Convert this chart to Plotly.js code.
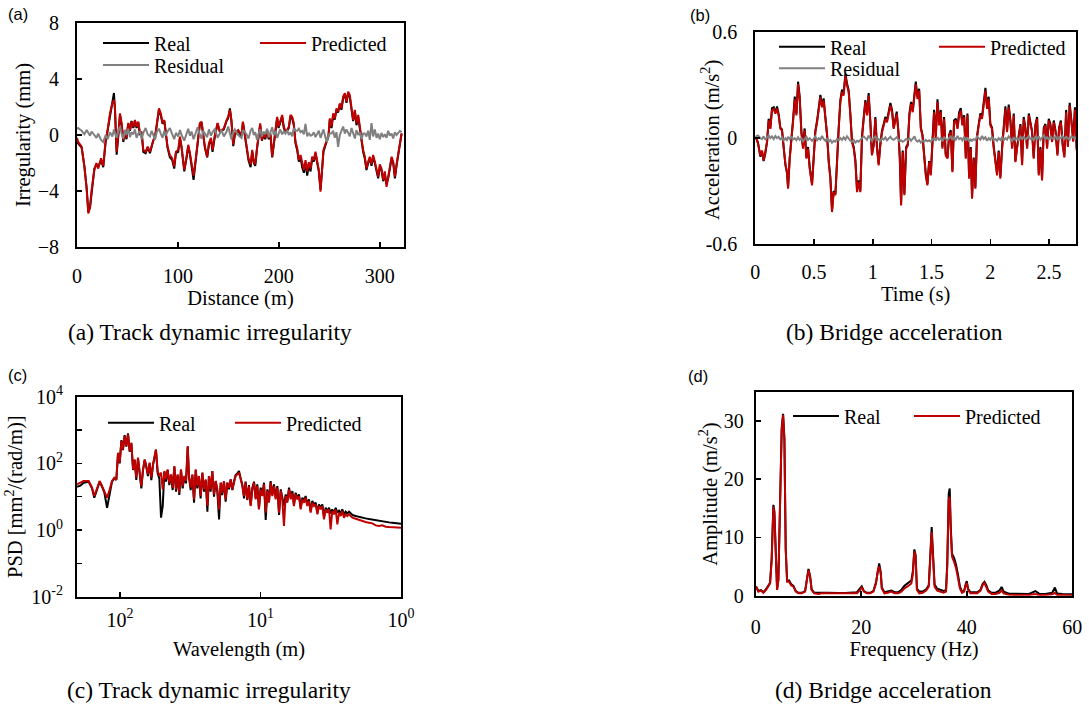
<!DOCTYPE html>
<html>
<head>
<meta charset="utf-8">
<script src="https://cdn.plot.ly/plotly-3.0.1.min.js"></script>
<style>html,body{margin:0;padding:0;background:#fff;}#chart{width:1089px;height:706px;}</style>
</head>
<body>
<div id="chart"></div>
<script>
// ---------- (a) Track dynamic irregularity, time domain ----------
const distance = [0,1,4.6,7.3,9.6,11.2,12.9,14.5,17.2,19.3,21,23.8,26,28.4,30.4,32.7,35,36.6,37.6,39.3,41,42.6,44.2,45.9,47.5,49,50.8,52.5,54,55.8,57.4,59,60.7,62.4,64,65.7,68,70,72.3,74,75.6,77.3,78.9,81.2,83,84.8,86.5,87.8,89.7,92,94.4,96.3,98,100.3,102,103.6,106.3,108.6,110.2,111.9,113.5,115.5,117.5,119.5,121.8,123.4,125,126.7,129,130.7,132.7,134.3,136.6,139.3,141.6,143.2,145.5,148.2,149.8,151.5,153,154.8,156.4,159.7,163,164.4,167.6,169.9,172,173.6,175.2,176.6,178.5,180.2,181.5,183.2,184.8,186.5,188.4,190,191.7,193.4,195,196.7,198.3,199.7,201.3,203.3,204.9,206.6,208.2,209.9,211.5,213.2,214.8,216.5,218.2,219.8,221.5,223.1,224.8,226.4,228.1,229.7,231.4,233,234.7,236.3,238,239.6,241.3,242.6,244.2,245.9,247.6,249.2,250.5,252.2,253.8,255.4,257.1,258.7,260.4,262,263.7,265.4,267,268.7,270.3,272,273.6,275.3,276.9,278.6,280.2,281.9,283.5,285.2,286.8,288.5,290.1,291.8,293.4,295.1,296.8,298.4,300,301.7,303.4,305,306.7,308.3,310,311.7,313.3,315,316.6,318.3,319.9,321.6];
const irrReal = [-0.3,-0.6,-0.9,-2.2,-3.8,-5.5,-5.2,-4.0,-2.4,-2.1,-2.3,-1.8,-2.3,-0.5,0.3,1.4,2.4,3.0,1.8,-1.4,0.0,1.4,0.7,-0.5,0.3,-0.3,0.8,0.3,1.0,0.5,1.0,0.5,0.9,0.0,0.2,-1.2,-1.3,-0.9,-1.3,-0.8,-0.4,-0.2,0.8,1.8,1.4,0.8,1.0,0.3,-0.9,-1.6,-1.8,-2.4,-1.3,-1.2,-0.2,-0.9,-2.6,-1.6,-0.8,-1.4,-2.2,-3.2,-1.9,-0.4,0.8,0.9,-0.1,-0.9,-1.6,-0.7,-0.3,-1.2,-0.1,0.8,0.2,0.3,0.4,1.0,1.2,1.9,1.0,-0.8,0.0,0.3,-0.1,0.9,-0.7,-1.8,-2.3,-1.2,-2.0,-2.2,-0.9,0.0,0.7,-0.4,0.0,-0.3,0.3,-0.3,0.0,-1.6,-0.7,0.6,1.2,0.5,0.9,1.3,0.5,0.2,0.3,0.5,1.3,1.2,0.7,-0.6,-1.1,-1.9,-1.6,-2.3,-2.7,-2.0,-2.9,-2.1,-2.6,-1.7,-1.9,-1.3,-2.0,-2.6,-3.9,-2.8,-1.2,-0.8,-0.4,-0.1,1.1,0.5,1.4,1.1,1.8,1.6,2.2,1.8,2.6,2.9,2.3,3.0,2.7,1.6,1.0,1.7,0.7,1.3,0.4,-0.6,-1.2,-1.7,-2.5,-2.0,-1.7,-2.2,-1.6,-2.0,-2.6,-3.1,-2.3,-2.5,-3.3,-2.8,-3.5,-3.1,-2.4,-1.7,-2.0,-3.1,-2.2,-1.5,-0.7,0.1];
const irrPred = [-0.2,-0.48,-0.83,-2.26,-3.9,-5.6,-5.1,-3.9,-2.5,-2.0,-2.4,-1.67,-2.2,-0.36,0.36,1.55,2.26,2.5,2.0,-1.2,0.1,1.55,0.86,-0.36,0.36,-0.2,0.86,0.36,0.95,0.6,1.07,0.6,0.95,0.1,0.24,-1.07,-1.2,-0.83,-1.2,-0.7,-0.36,-0.12,0.86,1.9,1.55,0.86,1.07,0.36,-0.83,-1.43,-1.67,-2.26,-1.2,-1.07,-0.12,-0.83,-2.5,-1.55,-0.7,-1.3,-2.1,-2.9,-1.79,-0.36,0.86,0.95,0,-0.83,-1.55,-0.6,-0.2,-1.07,0,0.86,0.24,0.36,0.47,1.07,1.3,1.79,1.07,-0.7,0.12,0.36,0,0.95,-0.6,-1.67,-2.1,-1.07,-1.9,-2.1,-0.83,0.12,0.83,-0.36,0.12,-0.2,0.36,-0.2,0.12,-1.55,-0.6,0.7,1.3,0.6,0.95,1.43,0.6,0.24,0.36,0.6,1.43,1.3,0.86,-0.48,-0.95,-1.79,-1.43,-2.1,-2.5,-1.79,-2.6,-1.95,-2.4,-1.55,-1.79,-1.2,-1.9,-2.5,-4.05,-2.7,-1.07,-0.7,-0.36,0,1.19,0.6,1.55,1.19,1.9,1.67,2.26,1.9,2.74,2.98,2.38,3.1,2.86,1.67,1.07,1.79,0.83,1.43,0.48,-0.48,-1.07,-1.55,-2.4,-1.9,-1.55,-2.1,-1.43,-1.9,-2.5,-2.98,-2.1,-2.4,-3.2,-2.6,-3.7,-2.98,-2.26,-1.55,-1.9,-2.98,-2.1,-1.43,-0.6,0.12];
const irrResidual = [0.45,0.5,0.3,0.05,0.35,0.1,-0.05,0.25,0.0,-0.2,0.1,-0.35,-0.5,0.0,-0.3,0.2,-0.1,0.4,0.15,-0.2,0.3,0.6,0.1,-0.25,0.35,0.0,0.45,-0.15,0.2,0.05,0.4,-0.2,0.1,0.25,-0.3,0.15,0.5,0.05,-0.1,0.3,0.0,-0.35,0.2,0.45,0.1,-0.2,0.3,-0.05,0.25,0.5,0.05,-0.3,0.15,-0.1,0.35,0.0,-0.4,0.2,0.45,-0.05,0.25,-0.3,0.1,0.55,0.0,-0.25,0.3,0.1,-0.15,0.4,-0.05,0.2,0.45,-0.2,0.1,0.35,-0.1,0.25,0.6,0.05,-0.3,0.2,0.4,0.0,-0.2,0.35,0.1,-0.25,0.3,0.5,0.0,0.2,-0.35,0.15,0.4,-0.1,0.25,0.05,0.45,-0.15,0.2,0.55,0.0,0.3,-0.2,0.15,0.4,0.05,0.25,0.1,0.35,0.0,0.2,-0.1,0.5,0.3,0.3,0.45,0.2,0.3,0.05,0.8,-0.1,0.15,-0.05,0.0,0.2,-0.15,0.1,0.3,-0.2,0.05,0.4,-0.1,-0.5,0.0,0.1,0.1,0.3,-0.2,0.2,-0.85,0.0,0.3,0.6,0.1,0.4,0.15,-0.1,0.5,0.2,-0.25,0.35,0.0,0.2,-0.3,0.1,0.1,-0.1,0.3,-0.35,0.85,-0.1,0.4,-0.2,0.1,-0.3,0.15,-0.15,0.05,-0.2,0.3,-0.05,0.1,-0.25,0.2,0.0,0.15,0.3,0.2];

// ---------- (b) Bridge acceleration, time domain ----------
const time = [0.003,0.023,0.043,0.057,0.071,0.086,0.1,0.114,0.128,0.142,0.157,0.171,0.185,0.199,
0.213,0.227,0.242,0.256,0.27,0.279,0.293,0.307,0.321,0.336,0.35,0.364,0.378,0.392,0.406,0.42,0.435,0.449,0.463,0.483,
0.497,0.511,0.526,0.54,0.554,0.568,0.582,0.597,0.611,0.625,0.639,0.653,0.667,0.682,0.696,0.71,0.724,0.738,0.752,0.767,
0.781,0.795,0.809,0.823,0.838,0.852,0.866,0.88,0.894,0.908,0.923,0.937,0.951,0.965,0.979,0.993,1.008,1.022,1.036,1.05,
1.064,1.079,1.093,1.107,1.121,1.135,1.15,1.164,1.178,
1.204,1.218,1.23,1.241,1.255,1.269,1.284,1.298,1.312,1.326,1.34,1.355,1.366,1.38,1.395,1.409,1.423,1.437,1.451,1.465,
1.48,1.494,1.508,1.522,1.536,1.551,1.565,1.579,1.593,1.607,1.621,1.636,1.65,1.664,1.678,1.692,1.707,1.721,1.735,1.749,
1.763,1.778,1.792,1.806,1.82,1.834,1.845,1.859,1.873,1.887,1.902,1.916,1.93,1.944,1.959,1.973,1.987,2.001,2.015,2.03,
2.044,2.058,2.072,2.086,2.101,2.115,2.129,2.143,2.157,2.172,2.186,2.2,2.214,2.228,2.243,2.257,2.271,2.285,2.299,2.314,
2.328,2.342,2.356,2.37,2.385,2.399,2.413,2.427,2.441,2.456,2.47,2.484,2.498,2.512,2.526,2.541,
2.556,2.572,2.586,2.601,2.616,2.631,2.646,2.661,2.676,2.691,2.706,2.721,2.736];
const accReal = [0.01,-0.025,-0.105,-0.075,-0.13,-0.085,-0.02,0.11,0.06,0.17,0.175,0.145,0.18,0.135,
0.06,0.05,-0.055,-0.15,-0.2,-0.28,-0.11,-0.015,0.1,0.235,0.14,0.32,0.235,0.04,-0.05,0.055,-0.11,-0.05,-0.165,-0.26,
-0.13,0.04,0.1,0.175,0.245,0.185,0.225,0.115,0.02,-0.13,-0.22,-0.41,-0.3,-0.315,-0.105,0.06,0.215,0.275,0.255,0.365,
0.31,0.27,0.14,-0.015,-0.05,-0.125,-0.29,-0.24,-0.3,0.01,0.12,0.215,0.14,0.255,0.1,-0.09,-0.035,0.12,-0.05,-0.145,
-0.035,0.045,0.08,0.12,0.1,0.14,0.2,0.16,0.06,
0.15,0.04,-0.11,-0.37,-0.07,-0.315,-0.05,-0.035,0.14,0.205,0.155,0.275,0.32,0.235,0.28,0.06,0.02,-0.09,-0.2,-0.26,
-0.13,-0.2,0.01,0.16,0.01,0.22,0.08,0.16,-0.05,0.12,-0.09,-0.11,0.02,0.045,-0.185,0.1,0.11,0.06,0.145,0.17,
0.08,0.13,-0.11,0.14,-0.22,-0.05,-0.335,-0.11,-0.28,0.01,0.08,0.14,0.12,0.215,0.285,0.18,0.235,0.08,0.06,-0.05,
-0.145,-0.2,-0.07,-0.22,-0.05,0.08,0.18,0.04,0.19,0.1,-0.05,0.14,-0.13,-0.05,0.02,0.08,-0.145,0.12,0.06,-0.05,
0.14,0.08,0.04,-0.11,0.08,0.12,-0.2,-0.05,-0.23,0.06,0.08,-0.05,0.11,0.08,-0.015,0.1,
0.04,-0.09,0.06,0.1,-0.03,-0.1,0.16,-0.04,0.2,0.1,-0.01,0.175,-0.06];
const accPred = [0.006,-0.03,-0.1,-0.07,-0.127,-0.08,-0.023,0.1,0.053,0.156,0.166,0.138,0.166,0.129,
0.053,0.044,-0.06,-0.145,-0.193,-0.287,-0.116,-0.022,0.09,0.222,0.129,0.307,0.222,0.034,-0.06,0.044,-0.116,-0.06,-0.173,-0.268,
-0.136,0.034,0.09,0.166,0.232,0.175,0.213,0.109,0.015,-0.136,-0.23,-0.419,-0.306,-0.324,-0.116,0.053,0.204,0.26,0.241,0.354,
0.298,0.26,0.129,-0.022,-0.06,-0.136,-0.306,-0.25,-0.306,0.0,0.109,0.204,0.129,0.241,0.09,-0.098,-0.041,0.109,-0.06,-0.154,
-0.041,0.034,0.072,0.109,0.09,0.129,0.185,0.147,0.053,
0.138,0.034,-0.116,-0.381,-0.079,-0.324,-0.06,-0.041,0.129,0.194,0.147,0.26,0.307,0.222,0.269,0.053,0.015,-0.098,-0.211,-0.268,
-0.136,-0.211,0.0,0.147,0.0,0.204,0.072,0.147,-0.06,0.109,-0.098,-0.116,0.015,0.034,-0.193,0.09,0.1,0.053,0.129,0.156,
0.072,0.119,-0.116,0.129,-0.23,-0.06,-0.343,-0.116,-0.287,0.0,0.072,0.129,0.109,0.204,0.269,0.166,0.222,0.072,0.053,-0.06,
-0.154,-0.211,-0.079,-0.23,-0.06,0.072,0.166,0.034,0.175,0.09,-0.06,0.129,-0.136,-0.06,0.015,0.072,-0.154,0.109,0.053,-0.06,
0.129,0.072,0.034,-0.116,0.072,0.109,-0.211,-0.06,-0.24,0.053,0.072,-0.06,0.1,0.072,-0.022,0.09,
0.034,-0.1,0.05,0.09,-0.04,-0.11,0.147,-0.05,0.185,0.09,-0.02,0.16,-0.07];
const accResidual = [0.01,0.015,0.0,-0.005,0.01,-0.01,0.005,0.015,0.0,0.01,-0.005,0.012,0.0,0.008,
-0.01,0.005,-0.012,0.0,-0.015,0.008,-0.005,0.01,-0.008,0.0,-0.012,0.005,-0.01,0.0,-0.018,-0.005,0.008,-0.01,0.0,-0.015,
-0.005,0.01,-0.012,0.0,-0.008,0.012,-0.005,-0.015,0.0,-0.02,-0.01,-0.025,-0.015,-0.02,-0.005,-0.012,0.0,-0.01,0.005,-0.008,
0.01,-0.005,-0.015,-0.02,-0.01,-0.025,-0.015,-0.02,-0.01,-0.005,0.01,0.0,-0.01,0.015,-0.005,-0.015,0.0,0.01,-0.01,-0.005,
-0.015,0.0,-0.008,0.005,-0.012,0.0,0.008,-0.005,-0.01,
0.005,-0.01,-0.018,-0.012,-0.02,-0.015,-0.005,-0.01,0.0,-0.015,-0.005,0.01,-0.01,-0.02,-0.012,-0.025,-0.015,-0.02,-0.01,-0.018,
-0.012,-0.02,-0.008,0.0,-0.015,0.005,-0.01,0.0,-0.018,0.008,-0.005,-0.012,0.0,0.01,-0.01,0.005,-0.008,0.012,-0.005,0.0,
-0.012,0.008,-0.015,0.005,-0.02,-0.008,-0.015,-0.005,-0.012,0.01,0.0,-0.008,0.012,-0.005,0.005,-0.015,0.0,-0.01,0.008,-0.012,
-0.005,-0.015,0.0,-0.01,0.005,-0.012,0.0,-0.008,0.01,-0.005,-0.015,0.005,-0.01,0.0,-0.012,0.008,-0.005,0.01,-0.008,0.0,
0.012,-0.005,0.0,-0.012,0.008,-0.005,0.01,-0.01,0.0,0.015,-0.005,0.005,-0.008,0.01,0.0,-0.005,
0.01,-0.008,0.005,0.0,0.012,-0.005,0.008,0.0,-0.01,0.012,0.005,-0.005,0.01];

// ---------- (c) Track irregularity PSD (values read as log10) ----------
const wavelengthLog10 = [2.306,2.282,2.259,2.223,2.199,2.183,2.164,2.145,2.128,2.111,2.092,2.073,2.057,2.040,2.026,2.014,2.002,1.990,1.979,1.967,1.955,1.943,1.931,1.919,1.907,1.896,1.884,1.872,1.860,1.848,1.836,1.824,1.813,1.801,1.789,1.777,1.765,1.753,1.744,1.732,1.720,1.708,1.696,1.684,1.673,1.661,1.649,1.637,1.625,1.613,1.601,1.590,1.578,1.566,1.554,1.542,1.530,1.518,1.509,1.497,1.485,1.473,1.461,1.450,1.438,1.426,1.414,1.402,1.390,1.378,1.367,1.355,1.343,1.331,1.319,1.307,1.295,1.283,1.272,1.260,1.248,1.236,1.224,1.212,1.200,1.189,1.177,1.165,1.153,1.141,1.129,1.117,1.106,1.094,1.082,1.070,1.058,1.046,1.034,1.023,1.011,0.999,0.987,0.975,0.963,0.951,0.940,0.928,0.916,0.904,0.892,0.880,0.868,0.856,0.845,0.833,0.821,0.809,0.797,0.785,0.773,0.762,0.750,0.738,0.726,0.714,0.702,0.690,0.679,0.667,0.655,0.643,0.631,0.619,0.607,0.595,0.584,0.572,0.560,0.548,0.536,0.524,0.512,0.501,0.489,0.477,0.465,0.453,0.441,0.429,0.418,0.406,0.394,0.382,0.370,0.358,0.346,0.323,0.299,0.275,0.252,0.228,0.204,0.180,0.157,0.133,0.109,0.085,0.062,0.038,0.014,0.0];
const psdRealLog10 = [1.30,1.33,1.42,1.45,1.25,0.97,1.20,1.45,1.30,1.12,0.67,1.15,1.45,1.55,1.50,2.30,2.00,2.70,2.40,2.85,2.50,2.90,2.35,2.60,1.80,2.10,1.50,2.15,1.70,1.25,1.80,2.10,1.90,1.62,2.00,1.50,1.95,2.20,2.40,1.70,1.55,0.37,0.72,1.75,1.45,1.80,1.35,1.65,1.20,1.90,1.15,1.65,1.05,1.80,1.25,1.60,1.40,2.50,1.60,1.20,1.65,0.82,1.80,1.25,1.60,0.95,1.72,1.15,1.50,0.55,1.62,1.15,1.77,1.00,1.47,1.15,0.32,1.42,1.05,1.47,0.85,1.42,1.22,1.52,1.20,1.45,1.65,1.70,1.77,1.55,1.35,0.95,1.45,0.90,1.35,0.75,1.27,1.45,0.95,1.37,0.65,1.27,1.05,1.42,0.30,1.22,0.85,1.47,1.07,1.37,0.97,1.32,0.45,1.22,0.97,0.72,1.07,0.87,1.27,0.97,1.17,0.77,1.12,0.97,1.07,0.67,0.97,0.87,1.02,0.77,0.92,0.57,0.87,0.77,0.82,0.52,0.77,0.67,0.77,0.40,0.67,0.57,0.67,0.50,0.62,0.52,0.67,0.52,0.58,0.50,0.62,0.47,0.55,0.50,0.55,0.50,0.45,0.42,0.39,0.37,0.35,0.33,0.31,0.29,0.27,0.26,0.24,0.23,0.22,0.21,0.20,0.19];
const psdPredLog10 = [1.37,1.42,1.47,1.47,1.27,1.02,1.22,1.47,1.32,1.17,0.97,1.22,1.47,1.57,1.52,2.32,2.02,2.67,2.42,2.82,2.52,2.87,2.37,2.62,1.82,2.12,1.57,2.17,1.72,1.32,1.82,2.12,1.92,1.67,2.02,1.57,1.97,2.22,2.42,1.77,1.62,1.72,1.22,1.77,1.52,1.82,1.42,1.67,1.27,1.92,1.22,1.67,1.12,1.82,1.32,1.62,1.47,2.52,1.62,1.27,1.67,0.92,1.82,1.32,1.62,1.02,1.72,1.22,1.52,0.72,1.62,1.22,1.77,1.07,1.47,1.22,0.62,1.42,1.12,1.47,0.92,1.42,1.27,1.52,1.22,1.42,1.62,1.67,1.72,1.52,1.32,1.02,1.42,0.92,1.32,0.72,1.22,1.42,0.92,1.32,0.62,1.22,1.02,1.37,0.52,1.17,0.82,1.42,1.02,1.32,0.92,1.27,0.52,1.17,0.92,0.12,1.02,0.82,1.22,0.92,1.12,0.72,1.07,0.92,1.02,0.62,0.92,0.82,0.97,0.72,0.87,0.52,0.82,0.72,0.77,0.47,0.72,0.62,0.72,0.32,0.62,0.52,0.62,0.02,0.57,0.47,0.62,0.17,0.52,0.42,0.57,0.37,0.47,0.42,0.47,0.42,0.37,0.34,0.30,0.27,0.24,0.22,0.20,0.14,0.12,0.14,0.10,0.09,0.08,0.08,0.07,0.07];

// ---------- (d) Bridge acceleration spectrum ----------
const frequency = [0.06,0.5,1.0,1.45,1.96,2.4,2.72,3.03,3.35,3.54,3.8,4.05,4.3,4.68,4.93,5.19,5.44,5.69,5.95,6.33,6.7,7.15,7.6,8.1,8.73,9.36,9.68,10.0,10.3,10.6,11.1,11.9,12.5,13.5,14.4,15.7,17.0,18.2,19.2,19.8,20.1,20.5,21.07,21.7,22.3,22.8,23.16,23.4,23.7,23.9,24.4,25.06,25.7,26.3,27.0,27.6,28.2,28.9,29.5,29.8,30.06,30.3,30.56,31.0,31.64,32.3,32.8,33.1,33.35,33.6,33.9,34.4,35.0,35.6,36.07,36.3,36.58,36.77,36.96,37.2,37.6,37.97,38.35,38.7,39.1,39.5,39.8,40.0,40.25,40.7,41.3,42.0,42.6,43.0,43.35,43.7,44.05,44.7,45.4,46.2,46.6,47.0,48.0,49.2,50.5,51.8,53.0,53.7,54.9,56.2,56.7,57.1,58.1,59.4,60.0];
const ampReal = [1.6,0.8,0.95,0.6,1.1,1.9,2.2,6.5,15.6,14.5,5.2,1.1,2.8,16.8,28.8,31.2,27.0,8.0,2.6,2.6,2.0,1.7,0.8,0.5,0.5,0.8,2.8,4.6,3.4,1.1,0.5,0.45,0.5,0.5,0.45,0.45,0.45,0.5,0.6,1.3,1.6,0.8,0.5,0.5,0.8,2.3,4.8,5.55,4.0,1.4,0.6,0.7,0.9,0.6,0.6,1.0,1.7,2.2,2.6,4.3,7.95,7.0,1.2,0.7,0.7,1.1,1.8,7.2,11.8,7.2,1.9,1.2,1.0,0.8,1.0,5.5,17.5,18.4,12.0,7.2,6.5,5.3,3.5,1.6,0.7,0.8,2.0,2.5,1.2,0.6,0.6,0.6,1.0,2.0,2.4,1.8,0.9,0.5,0.5,0.9,1.5,0.7,0.35,0.3,0.3,0.3,0.8,0.35,0.3,0.5,1.4,0.4,0.3,0.25,0.25];
const ampPred = [1.55,0.7,0.87,0.5,1.0,1.8,2.1,6.1,15.3,14.1,4.98,0.98,2.7,16.4,28.4,30.98,26.7,7.8,2.4,2.4,1.8,1.55,0.7,0.4,0.4,0.7,2.7,4.4,3.3,0.98,0.4,0.3,0.4,0.4,0.3,0.3,0.3,0.3,0.4,0.98,1.4,0.7,0.4,0.4,0.7,2.1,4.4,5.0,3.8,1.26,0.4,0.5,0.7,0.4,0.4,0.7,1.26,1.66,2.1,3.8,7.6,6.7,0.98,0.4,0.5,0.87,1.55,6.7,10.9,6.7,1.55,0.87,0.7,0.5,0.7,4.98,16.4,16.98,11.3,6.7,5.8,4.7,2.98,1.26,0.5,0.7,1.8,2.2,0.98,0.4,0.4,0.4,0.87,1.8,2.2,1.55,0.7,0.3,0.3,0.5,0.87,0.4,0.18,0.12,0.12,0.12,0.3,0.12,0.12,0.23,0.5,0.12,0.12,0.06,0.06];

// ---------- labels ----------
const seriesNames = ['Real', 'Predicted', 'Residual'];
const captions = ['(a) Track dynamic irregularity', '(b) Bridge acceleration', '(c) Track dynamic irregularity', '(d) Bridge acceleration'];
const panelTags = ['(a)', '(b)', '(c)', '(d)'];
const psdTickVals = [1e-2, 1, 100, 10000];
const psdTickText = ['10<sup>-2</sup>', '10<sup>0</sup>', '10<sup>2</sup>', '10<sup>4</sup>'];
const psdMinorVals = [1e-1, 10, 1000];
const wlTickVals = [100, 10, 1];
const wlTickText = ['10<sup>2</sup>', '10<sup>1</sup>', '10<sup>0</sup>'];

// ---------- styling / layout ----------
const W = 1089, H = 706;
const SERIF = 'Liberation Serif, Times New Roman, serif';
const SANS = 'Liberation Sans, Arial, sans-serif';
const C_REAL = '#000000', C_PRED = '#C00000', C_RES = '#808080';
const fx = p => p / W, fy = p => 1 - p / H;
const pow10 = a => a.map(v => Math.pow(10, v));

function line(x, y, name, color, xa, ya, lg) {
  return {x: x, y: y, name: name, type: 'scatter', mode: 'lines', line: {color: color, width: 2}, xaxis: xa, yaxis: ya, legend: lg};
}
const traces = [
  line(distance, irrReal, seriesNames[0], C_REAL, 'x', 'y', 'legend'),
  line(distance, irrPred, seriesNames[1], C_PRED, 'x', 'y', 'legend2'),
  line(distance, irrResidual, seriesNames[2], C_RES, 'x', 'y', 'legend3'),
  line(time, accReal, seriesNames[0], C_REAL, 'x2', 'y2', 'legend4'),
  line(time, accPred, seriesNames[1], C_PRED, 'x2', 'y2', 'legend5'),
  line(time, accResidual, seriesNames[2], C_RES, 'x2', 'y2', 'legend6'),
  line(pow10(wavelengthLog10), pow10(psdRealLog10), seriesNames[0], C_REAL, 'x3', 'y3', 'legend7'),
  line(pow10(wavelengthLog10), pow10(psdPredLog10), seriesNames[1], C_PRED, 'x3', 'y3', 'legend8'),
  line(frequency, ampReal, seriesNames[0], C_REAL, 'x4', 'y4', 'legend9'),
  line(frequency, ampPred, seriesNames[1], C_PRED, 'x4', 'y4', 'legend10')
];

function axis(extra) {
  return Object.assign({
    showline: true, linecolor: '#000', linewidth: 2, mirror: true,
    ticks: 'inside', ticklen: 5, tickwidth: 1.5, tickcolor: '#000',
    showgrid: false, zeroline: false, automargin: false,
    tickfont: {family: SERIF, size: 20, color: '#000'}
  }, extra);
}
function ttl(text, standoff) {
  return {text: text, font: {family: SERIF, size: 20.5, color: '#000'}, standoff: standoff};
}
function legendAt(xLine, yMid) {
  return {x: fx(xLine - 5), y: fy(yMid), xanchor: 'left', yanchor: 'middle', orientation: 'h',
    bgcolor: 'rgba(0,0,0,0)', borderwidth: 0, itemwidth: 46,
    font: {family: SERIF, size: 20, color: '#000'}, itemclick: false, itemdoubleclick: false};
}
function note(text, xp, yp, font, extra) {
  return Object.assign({text: text, x: fx(xp), y: fy(yp), xref: 'paper', yref: 'paper', showarrow: false,
    xanchor: 'center', yanchor: 'middle', font: font}, extra || {});
}
const capFont = {family: SERIF, size: 23.5, color: '#000'};
const tagFont = {family: SANS, size: 16.5, color: '#000'};

const layout = {
  width: W, height: H,
  margin: {l: 0, r: 0, t: 0, b: 0},
  paper_bgcolor: '#fff', plot_bgcolor: '#fff',
  font: {family: SERIF, size: 20, color: '#000'},
  showlegend: true,
  xaxis: axis({domain: [fx(77), fx(404)], anchor: 'y', range: [0, 324], tickvals: [0, 100, 200, 300], ticklabelstandoff: 10, title: ttl('Distance (m)', 3)}),
  yaxis: axis({domain: [fy(247), fy(23)], anchor: 'x', range: [-8, 8], tickvals: [-8, -4, 0, 4, 8], ticklabelstandoff: 12, title: ttl('Irregularity (mm)', 2)}),
  xaxis2: axis({domain: [fx(755.3), fx(1076)], anchor: 'y2', range: [0, 2.73], tickvals: [0, 0.5, 1, 1.5, 2, 2.5], ticklabelstandoff: 9, title: ttl('Time (s)', 4)}),
  yaxis2: axis({domain: [fy(244), fy(32.3)], anchor: 'x2', range: [-0.6, 0.6], tickvals: [-0.6, 0, 0.6], ticktext: ['-0.6', '0', '0.6'], ticklabelstandoff: 12}),
  xaxis3: axis({domain: [fx(77), fx(401)], anchor: 'y3', type: 'log', range: [2.306, 0], tickvals: wlTickVals, ticktext: wlTickText, ticklabelstandoff: 4, title: ttl('Wavelength (m)', 12)}),
  yaxis3: axis({domain: [fy(596.7), fy(396.7)], anchor: 'x3', type: 'log', range: [-2, 4], tickvals: psdTickVals, ticktext: psdTickText,
    minor: {tickmode: 'array', tickvals: psdMinorVals, ticks: 'inside', ticklen: 5, tickwidth: 1.5, tickcolor: '#000', showgrid: false},
    ticklabelstandoff: 8, title: ttl('PSD [mm<sup>2</sup>/(rad/m)]', 3)}),
  xaxis4: axis({domain: [fx(755.7), fx(1072.3)], anchor: 'y4', range: [0, 60], tickvals: [0, 20, 40, 60], ticklabelstandoff: 12, title: ttl('Frequency (Hz)', 4)}),
  yaxis4: axis({domain: [fy(595.7), fy(392.3)], anchor: 'x4', range: [0, 34.9], tickvals: [0, 10, 20, 30], ticklabelstandoff: 6, title: ttl('Amplitude (m/s<sup>2</sup>)', 1)}),
  legend: legendAt(103, 43),
  legend2: legendAt(260, 43),
  legend3: legendAt(103, 65),
  legend4: legendAt(779, 46.7),
  legend5: legendAt(939, 46.7),
  legend6: legendAt(779, 68.3),
  legend7: legendAt(108, 422.7),
  legend8: legendAt(235, 422.7),
  legend9: legendAt(793, 416),
  legend10: legendAt(914, 416),
  annotations: [
    note('Acceleration (m/s<sup>2</sup>)', 711, 140, {family: SERIF, size: 20.5, color: '#000'}, {textangle: -90}),
    note(captions[0], 210, 332, capFont),
    note(captions[1], 894, 332, capFont),
    note(captions[2], 209, 690, capFont),
    note(captions[3], 883, 690, capFont),
    note(panelTags[0], 18, 14, tagFont),
    note(panelTags[1], 700, 15, tagFont),
    note(panelTags[2], 17, 375, tagFont),
    note(panelTags[3], 698, 376, tagFont)
  ]
};

Plotly.newPlot('chart', traces, layout, {displayModeBar: false, staticPlot: true});
</script>
</body>
</html>
